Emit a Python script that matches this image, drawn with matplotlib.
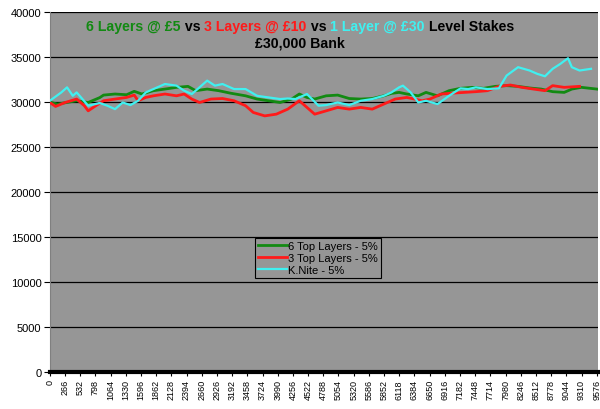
import matplotlib.pyplot as plt
from matplotlib.offsetbox import TextArea, HPacker, VPacker, AnchoredOffsetbox

# values (bet number, bank)
green_x = [0, 134, 470, 672, 874, 941, 1142, 1344, 1478, 1613, 1814, 2016, 2218, 2419, 2554,
           2755, 2957, 3158, 3427, 3629, 3830, 4032, 4234, 4368, 4502, 4637, 4838, 5040, 5242,
           5443, 5645, 5846, 5981, 6115, 6250, 6451, 6586, 6787, 6989, 7190, 7392, 7594, 7795,
           7997, 8198, 8400, 8602, 8803, 9005, 9139, 9307]
green_y = [30000, 29780, 30150, 29960, 30500, 30780, 30900, 30820, 31200, 30900, 31270, 31450,
           31640, 31750, 31270, 31450, 31270, 31000, 30700, 30340, 30150, 29960, 30340, 30900,
           30520, 30340, 30700, 30780, 30400, 30340, 30400, 30700, 30970, 31080, 30900, 30700,
           31080, 30700, 31270, 31530, 31640, 31530, 31750, 31830, 31750, 31570, 31450, 31160,
           31080, 31450, 31640]
green_x += [9576]
green_y += [31450]

red_x = [0, 101, 269, 470, 605, 672, 806, 941, 1142, 1344, 1478, 1546, 1680, 1814, 2016, 2218,
         2352, 2486, 2621, 2822, 3024, 3226, 3427, 3562, 3763, 3965, 4166, 4368, 4502, 4637,
         4838, 5040, 5242, 5443, 5645, 5846, 6048, 6250, 6384, 6518, 6653, 6854, 7056, 7258,
         7459, 7661, 7862, 8064, 8266, 8467, 8669, 8803, 9005, 9274]
red_y = [29960, 29520, 29960, 30340, 29600, 29030, 29600, 30150, 30340, 30520, 30780, 30150,
         30520, 30700, 30900, 30700, 30900, 30340, 29960, 30340, 30400, 30150, 29600, 28850,
         28470, 28660, 29220, 30150, 29410, 28660, 29030, 29410, 29220, 29410, 29220, 29780,
         30340, 30520, 30340, 30150, 30340, 30900, 31000, 31080, 31160, 31270, 31750, 31900,
         31640, 31450, 31270, 31830, 31640, 31750]

cyan_x = [0, 202, 302, 403, 470, 571, 672, 874, 1008, 1142, 1277, 1411, 1546, 1680, 1814,
          2016, 2218, 2352, 2486, 2621, 2755, 2890, 3024, 3226, 3427, 3629, 3830, 4032, 4166,
          4302, 4502, 4704, 4838, 5040, 5242, 5443, 5645, 5846, 5981, 6115, 6182, 6317, 6451,
          6586, 6787, 6989, 7190, 7325, 7459, 7661, 7862, 7997, 8198, 8400, 8534, 8669, 8803,
          8938, 9072]
cyan_y = [30150, 31080, 31640, 30700, 31080, 30340, 29600, 29900, 29600, 29220, 29960, 29670,
          30150, 31080, 31450, 32010, 31830, 31270, 30900, 31640, 32390, 31830, 32010, 31450,
          31450, 30700, 30520, 30340, 30400, 30340, 30900, 29600, 29670, 29960, 29670, 30150,
          30340, 30700, 31080, 31640, 31830, 31080, 29960, 30150, 29780, 30700, 31530, 31450,
          31640, 31450, 31530, 32950, 33880, 33510, 33140, 32870, 33700, 34250, 34880]
cyan_x += [9139, 9274, 9475]
cyan_y += [33880, 33510, 33700]

x_ticks = list(range(0, 9577, 266))
y_ticks = list(range(0, 40001, 5000))

plt.rcParams['font.family'] = ['Liberation Sans', 'DejaVu Sans']

fig = plt.figure(figsize=(6, 4.1), dpi=100)
ax = fig.add_axes([0.083, 0.09, 0.913, 0.878])
ax.set_facecolor('#969696')

ax.plot(green_x, green_y, color='#128a12', lw=2, label='6 Top Layers - 5%', zorder=3)
ax.plot(red_x, red_y, color='#ff1a1a', lw=2, label='3 Top Layers - 5%', zorder=4)
ax.plot(cyan_x, cyan_y, color='#40f0f0', lw=1.6, label='K.Nite - 5%', zorder=5)

ax.set_xlim(0, 9590)
ax.set_ylim(0, 40000)
ax.set_yticks(y_ticks)
ax.set_xticks(x_ticks)
ax.set_xticklabels([str(v) for v in x_ticks], rotation=90, fontsize=6.5)
ax.tick_params(axis='y', labelsize=8, length=4, pad=2)
ax.tick_params(axis='x', length=3, pad=2)
ax.grid(axis='y', color='black', lw=0.9)
ax.set_axisbelow(True)
for s in ['top', 'right']:
    ax.spines[s].set_visible(False)
ax.spines['left'].set_color('#808080')
ax.spines['bottom'].set_linewidth(3)

# multi-coloured title inside the plot area
parts = [('6 Layers @ £5', '#128a12'), (' vs ', 'black'), ('3 Layers @ £10', '#ff1a1a'),
         (' vs ', 'black'), ('1 Layer @ £30', '#40f0f0'), (' Level Stakes', 'black')]
props = dict(fontsize=10.2, fontweight='bold')
line1 = HPacker(children=[TextArea(t, textprops=dict(color=c, **props)) for t, c in parts],
                align='baseline', pad=0, sep=0)
line2 = TextArea('£30,000 Bank', textprops=dict(color='black', **props))
title = VPacker(children=[line1, line2], align='center', pad=0, sep=2)
box = AnchoredOffsetbox(loc='upper center', child=title, frameon=False,
                        bbox_to_anchor=(0.457, 0.996), bbox_transform=ax.transAxes,
                        borderpad=0)
ax.add_artist(box)

leg = ax.legend(loc='center', bbox_to_anchor=(0.49, 0.317), fontsize=8,
                frameon=True, fancybox=False, framealpha=1, edgecolor='black',
                facecolor='#969696', handlelength=2.6, handletextpad=0.1,
                borderpad=0.3, labelspacing=0.15)
leg.get_frame().set_linewidth(0.8)

fig.savefig('out.png', dpi=100)
